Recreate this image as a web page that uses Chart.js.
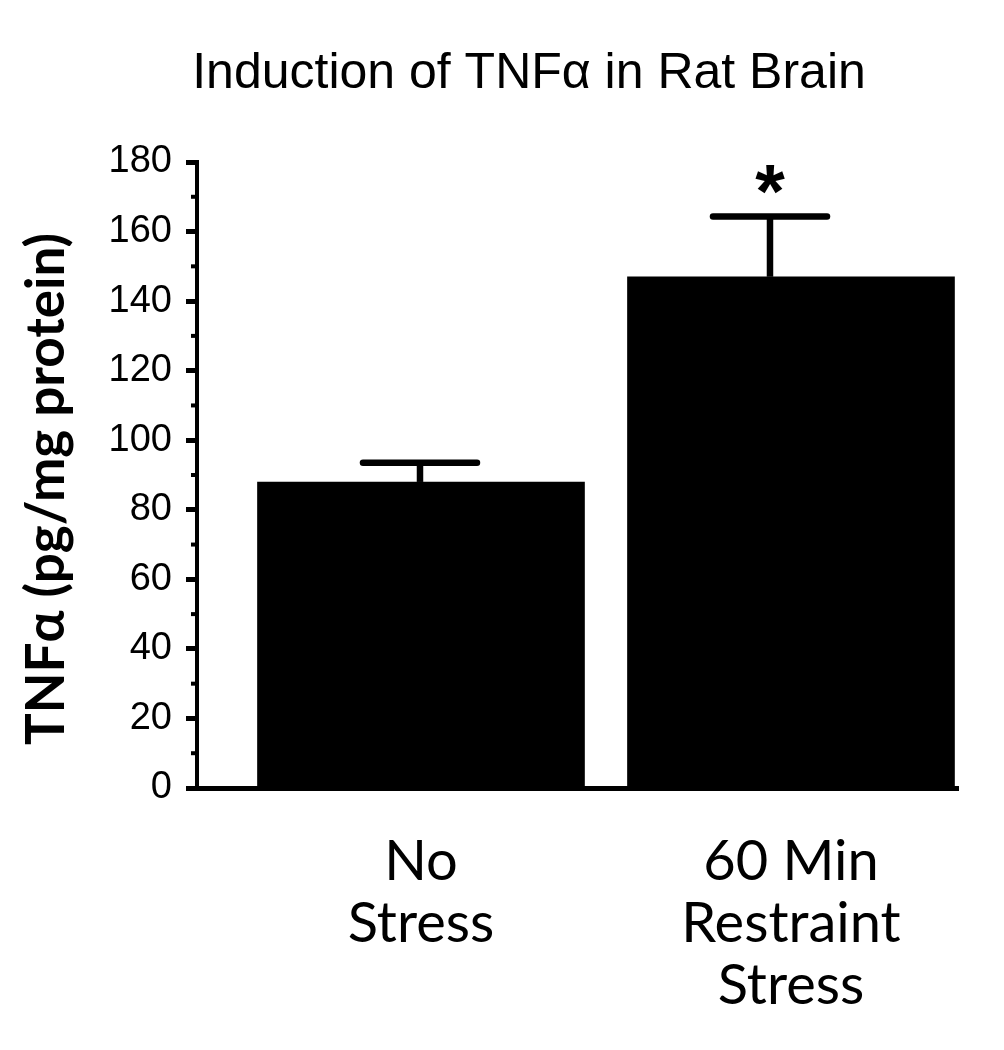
<!DOCTYPE html>
<html>
<head>
<meta charset="utf-8">
<script src="https://cdn.jsdelivr.net/npm/chart.js@4.4.0/dist/chart.umd.min.js"></script>
<style>
html,body{margin:0;padding:0;background:#fff;}
#wrap{width:1004px;height:1050px;}
</style>
</head>
<body>
<div id="wrap"><canvas id="c" width="1004" height="1050"></canvas></div>
<script>
// ---- data ----
const chartTitle = 'Induction of TNFα in Rat Brain';
const yAxisTitle = 'TNFα (pg/mg protein)';
const categories = [['No', 'Stress'], ['60 Min', 'Restraint', 'Stress']];
const means = [88.0, 147.0];
const errorTops = [93.5, 164.3];
const significance = ['', '*'];
const yTicks = [0, 20, 40, 60, 80, 100, 120, 140, 160, 180];
const yMinorTicks = [10, 30, 50, 70, 90, 110, 130, 150, 170];

// ---- style ----
const errorBarStyle = { lineWidth: 6.5, capHalf: 57, shift: [-1, -21], color: '#000' };

const titlePlugin = {
  id: 'titles',
  afterDraw(chart) {
    const ctx = chart.ctx;
    ctx.save();
    ctx.fillStyle = '#000';
    ctx.font = '50px "Liberation Sans", Arial, sans-serif';
    ctx.textAlign = 'center';
    ctx.textBaseline = 'middle';
    ctx.fillText(chartTitle, 529, 74);
    ctx.restore();
    ctx.save();
    ctx.fillStyle = '#000';
    ctx.font = 'bold 53px Lato, sans-serif';
    ctx.textAlign = 'center';
    ctx.textBaseline = 'middle';
    ctx.translate(47, 489);
    ctx.rotate(-Math.PI / 2);
    ctx.fillText(yAxisTitle, 0, 0);
    ctx.restore();
  }
};

const minorTickPlugin = {
  id: 'minorTicks',
  afterDraw(chart) {
    const ctx = chart.ctx;
    const ys = chart.scales.y;
    const left = chart.chartArea.left;
    ctx.save();
    ctx.strokeStyle = '#000';
    ctx.lineWidth = 4;
    yMinorTicks.forEach(v => {
      const py = ys.getPixelForValue(v);
      ctx.beginPath();
      ctx.moveTo(left - 6, py);
      ctx.lineTo(left, py);
      ctx.stroke();
    });
    ctx.restore();
  }
};

const errorBarPlugin = {
  id: 'errorBars',
  afterDatasetsDraw(chart) {
    const ctx = chart.ctx;
    const ys = chart.scales.y;
    const meta = chart.getDatasetMeta(0);
    ctx.save();
    ctx.strokeStyle = errorBarStyle.color;
    ctx.fillStyle = '#000';
    ctx.lineWidth = errorBarStyle.lineWidth;
    meta.data.forEach((bar, i) => {
      const x = bar.x + errorBarStyle.shift[i];
      const yTop = ys.getPixelForValue(errorTops[i]);
      ctx.lineCap = 'butt';
      ctx.beginPath();
      ctx.moveTo(x, bar.y);
      ctx.lineTo(x, yTop);
      ctx.stroke();
      ctx.lineCap = 'round';
      ctx.beginPath();
      ctx.moveTo(x - errorBarStyle.capHalf, yTop);
      ctx.lineTo(x + errorBarStyle.capHalf, yTop);
      ctx.stroke();
      if (significance[i]) {
        ctx.font = 'bold 76px "Liberation Sans", Arial, sans-serif';
        ctx.textAlign = 'center';
        ctx.textBaseline = 'alphabetic';
        const m = ctx.measureText(significance[i]);
        const cy = yTop - 37;
        const base = cy + (m.actualBoundingBoxAscent - m.actualBoundingBoxDescent) / 2;
        ctx.fillText(significance[i], x, base);
      }
    });
    ctx.restore();
  }
};

new Chart(document.getElementById('c'), {
  type: 'bar',
  data: {
    datasets: [{
      data: means.map((v, i) => ({ x: i, y: v })),
      backgroundColor: '#000',
      borderWidth: 0,
      barThickness: 327
    }]
  },
  options: {
    responsive: false,
    animation: false,
    layout: { padding: { top: 162, left: 0, right: 46, bottom: 0 } },
    plugins: {
      legend: { display: false },
      title: { display: false },
      tooltip: { enabled: false }
    },
    scales: {
      x: {
        type: 'linear',
        offset: false,
        min: -0.6054,
        max: 1.4514,
        afterBuildTicks: s => { s.ticks = categories.map((_, i) => ({ value: i })); },
        afterFit: s => { s.height = 262; },
        grid: { display: false, drawTicks: false, offset: false },
        border: { display: true, color: '#000', width: 5 },
        ticks: {
          callback: v => categories[v],
          color: '#000',
          font: { family: 'Lato', size: 56, lineHeight: 1.107 },
          padding: 43,
          maxRotation: 0,
          autoSkip: false
        }
      },
      y: {
        min: 0,
        max: 180,
        afterBuildTicks: s => { s.ticks = yTicks.map(v => ({ value: v })); },
        afterFit: s => { s.width = 197; },
        grid: { drawOnChartArea: false, tickLength: 11, tickWidth: 5, tickColor: '#000' },
        border: { display: true, color: '#000', width: 4 },
        ticks: {
          color: '#000',
          font: { family: 'Liberation Sans', size: 38 },
          padding: 14
        },
        title: { display: false }
      }
    }
  },
  plugins: [titlePlugin, minorTickPlugin, errorBarPlugin]
});
</script>
</body>
</html>
